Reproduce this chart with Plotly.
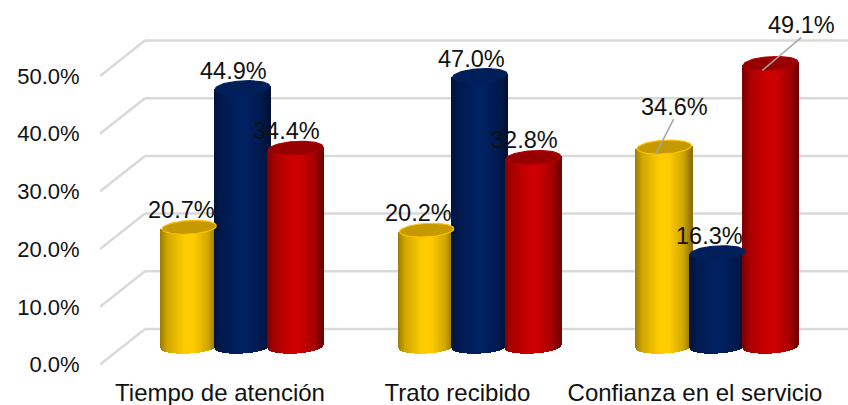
import numpy as np
import plotly.graph_objects as go

categories = ["Tiempo de atención", "Trato recibido", "Confianza en el servicio"]
amarillo = [20.7, 20.2, 34.6]
azul = [44.9, 47.0, 16.3]
rojo = [34.4, 32.8, 49.1]
y_ticks = [0, 10, 20, 30, 40, 50]
y_tick_labels = ["0.0%", "10.0%", "20.0%", "30.0%", "40.0%", "50.0%"]

# Layout / style constants
W, H = 848, 405
PX_X, PX_Y = 237.5, 5.77          # pixels per category / per percentage point
PLOT_L, PLOT_B = 100, 29
FRONT_PX_X0, ZERO_PX_Y = 220, 364.5
DEPTH_X, DEPTH_Y = 45 / PX_X, 35.5 / PX_Y
SERIES_DX = 53.3 / PX_X
HALF_W = 27.6 / PX_X
TOP_HALF_W = 27.2 / PX_X
ELL_H, TILT = 6.8 / PX_Y, 1.5 / PX_Y
FONT = "Liberation Sans, Arial, sans-serif"
GRID = "#d9d9d9"
x_min = (PLOT_L - FRONT_PX_X0) / PX_X
x_max = (W - FRONT_PX_X0) / PX_X
y_max = ZERO_PX_Y / PX_Y
y_min = (ZERO_PX_Y - (H - PLOT_B)) / PX_Y

styles = [
    dict(name="Serie 1", vals=amarillo, rgb=(255, 204, 0), top="#c49a00", rim="#ffc000", dx=-SERIES_DX),
    dict(name="Serie 2", vals=azul, rgb=(0, 32, 96), top="#001f58", rim="#002060", dx=0.0),
    dict(name="Serie 3", vals=rojo, rgb=(204, 0, 0), top="#960000", rim="#b00000", dx=SERIES_DX),
]
shade_t = [0, 0.12, 0.42, 0.6, 0.85, 1]
shade_f = [0.62, 0.82, 1.0, 1.0, 0.82, 0.55]


def shade(rgb, t):
    f = np.interp(t, shade_t, shade_f)
    return "rgb(%d,%d,%d)" % tuple(int(c * f) for c in rgb)


fig = go.Figure()
step = 1 / PX_X
us = np.arange(-1, 1.0001, 2 / 56)

# Cylinder bodies: thin shaded slices that rise from the floor to each value
for s in styles:
    xs, ys, bases, cols = [], [], [], []
    for i, v in enumerate(s["vals"]):
        cx = i + DEPTH_X / 2 + s["dx"]
        for u in us:
            xs.append(cx + u * HALF_W)
            low = DEPTH_Y / 2 - ELL_H * np.sqrt(1 - u * u) + TILT * u
            high = v + DEPTH_Y / 2 + TILT * u
            bases.append(low)
            ys.append(high - low)
            cols.append(shade(s["rgb"], (u + 1) / 2))
    fig.add_trace(go.Bar(x=xs, y=ys, base=bases, width=step * 1.4, name=s["name"],
                         marker=dict(color=cols, line=dict(width=0)),
                         hoverinfo="skip", showlegend=False))

# Cylinder tops
theta = np.linspace(0, 2 * np.pi, 73)
for s in styles:
    for i, v in enumerate(s["vals"]):
        cx = i + DEPTH_X / 2 + s["dx"]
        fig.add_trace(go.Scatter(
            x=cx + TOP_HALF_W * np.cos(theta),
            y=v + DEPTH_Y / 2 + ELL_H * np.sin(theta) + TILT * np.cos(theta),
            mode="lines", fill="toself", fillcolor=s["top"],
            line=dict(color=s["rim"], width=1.2),
            hoverinfo="skip", showlegend=False))

# Leader lines for the two displaced labels (series index, category index, label shift in px)
label_shift = {
    (0, 0): (-8, 17), (0, 1): (-8, 17), (0, 2): (10, 40),
    (1, 0): (-9, 17), (1, 1): (-9, 17), (1, 2): (-8, 17),
    (2, 0): (-9, 17), (2, 1): (-9, 17), (2, 2): (31, 38),
}
leaders = [(0, 2), (2, 2)]
for si, ci in leaders:
    s = styles[si]
    v = s["vals"][ci]
    cx = ci + DEPTH_X / 2 + s["dx"]
    sx, sy = label_shift[(si, ci)]
    fig.add_trace(go.Scatter(
        x=[cx - 8.5 / PX_X, cx + (sx - 0.5) / PX_X],
        y=[v + DEPTH_Y / 2 - 7 / PX_Y, v + DEPTH_Y / 2 + (sy - 17 + 5) / PX_Y],
        mode="lines", line=dict(color="#a6a6a6", width=1.5),
        hoverinfo="skip", showlegend=False))

# Data labels
for si, s in enumerate(styles):
    for ci, v in enumerate(s["vals"]):
        sx, sy = label_shift[(si, ci)]
        fig.add_annotation(x=ci + DEPTH_X / 2 + s["dx"], y=v + DEPTH_Y / 2,
                           text="%.1f%%" % v, showarrow=False,
                           xshift=sx, yshift=sy,
                           font=dict(family=FONT, size=23.5, color="#111111"))

# 3D style gridlines: side wall plus back wall
for t in y_ticks:
    fig.add_shape(type="line", layer="below", xref="x", yref="y",
                  x0=x_min, y0=t, x1=x_min + DEPTH_X, y1=t + DEPTH_Y,
                  line=dict(color=GRID, width=2.5))
    fig.add_shape(type="line", layer="below", xref="x", yref="y",
                  x0=x_min + DEPTH_X, y0=t + DEPTH_Y, x1=x_max, y1=t + DEPTH_Y,
                  line=dict(color=GRID, width=2.5))

fig.update_layout(
    width=W, height=H, autosize=False,
    margin=dict(l=PLOT_L, r=0, t=0, b=PLOT_B, pad=0),
    paper_bgcolor="white", plot_bgcolor="white",
    barmode="overlay", bargap=0, showlegend=False,
    font=dict(family=FONT, color="#111111"),
    xaxis=dict(range=[x_min, x_max], tickmode="array", tickvals=[0, 1, 2],
               ticktext=categories, showgrid=False, zeroline=False, showline=False,
               automargin=False, ticks="", ticklen=0,
               tickfont=dict(family=FONT, size=24, color="#111111")),
    yaxis=dict(range=[y_min, y_max], tickmode="array", tickvals=y_ticks,
               ticktext=y_tick_labels, showgrid=False, zeroline=False, showline=False,
               automargin=False, ticks="outside", ticklen=15, tickcolor="rgba(0,0,0,0)",
               tickfont=dict(family=FONT, size=22, color="#111111")),
)
fig.write_html("out.html", config={"displayModeBar": False},
               post_script="document.documentElement.style.margin='0';document.body.style.margin='0';document.body.style.overflow='hidden';")
